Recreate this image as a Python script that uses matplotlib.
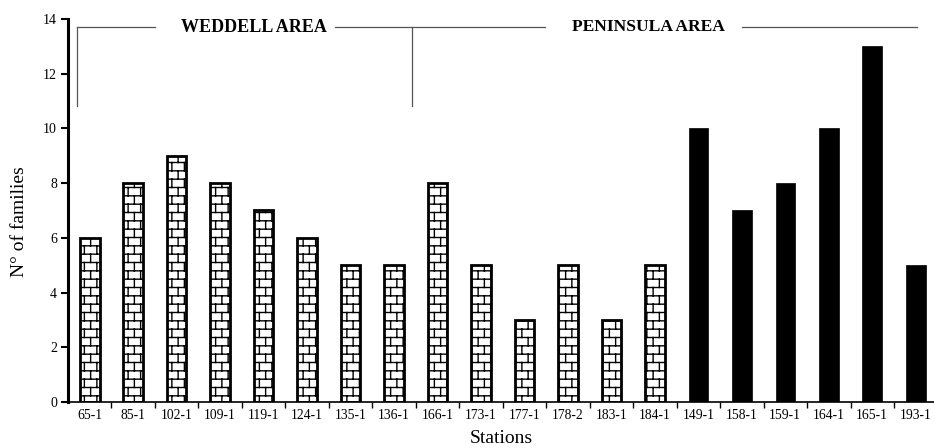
import warnings
import numpy as np
import matplotlib
matplotlib.use('Agg')
import matplotlib.pyplot as plt
from matplotlib import hatch as mhatch
from matplotlib.path import Path

warnings.filterwarnings('ignore')

stations = ['65-1', '85-1', '102-1', '109-1', '119-1', '124-1', '135-1',
            '136-1', '166-1', '173-1', '177-1', '178-2', '183-1', '184-1',
            '149-1', '158-1', '159-1', '164-1', '165-1', '193-1']
families = [6, 8, 9, 8, 7, 6, 5, 5, 8, 5, 3, 5, 3, 5, 10, 7, 8, 10, 13, 5]
solid = [False] * 14 + [True] * 6


class BrickHatch(mhatch.HatchPatternBase):
    """Staggered brick courses, picked with 'b' in the hatch string."""
    rows, cols = 12, 8

    def __init__(self, hatch, density):
        self.segments = []
        if 'b' in hatch:
            h = 1.0 / self.rows
            for i in range(self.rows):
                y0 = (i + 0.5) * h
                y1 = y0 + h
                self.segments.append(((0.0, y0), (1.0, y0)))
                shift = 0.25 if i % 2 == 0 else 0.75
                for j in range(self.cols):
                    x = (j + shift) / self.cols
                    if y1 <= 1:
                        self.segments.append(((x, y0), (x, y1)))
                    else:
                        self.segments.append(((x, y0), (x, 1.0)))
                        self.segments.append(((x, 0.0), (x, y1 - 1)))
        self.num_vertices = 2 * len(self.segments)

    def set_vertices_and_codes(self, vertices, codes):
        vertices[:] = np.array(self.segments, dtype=float).reshape(-1, 2)
        codes[0::2] = Path.MOVETO
        codes[1::2] = Path.LINETO


mhatch._hatch_types.append(BrickHatch)

plt.rcParams['font.family'] = ['Liberation Serif', 'DejaVu Serif']
plt.rcParams['hatch.linewidth'] = 1.0

fig = plt.figure(figsize=(9.34, 4.48), dpi=100)
ax = fig.add_axes([68 / 934, 46 / 448, 866 / 934, 383 / 448])

x = np.arange(len(stations))
for xi, v, s in zip(x, families, solid):
    if s:
        ax.bar(xi, v, width=0.45, color='black', edgecolor='black', linewidth=0.5)
    else:
        ax.bar(xi, v, width=0.45, color='white', edgecolor='black',
               linewidth=2.0, hatch='b')

ax.set_xlim(-0.5, 19.42)
ax.set_ylim(0, 14)
ax.set_yticks(range(0, 15, 2))
ax.set_xticks(x)
ax.set_xticklabels(stations)
ax.set_xticks(x[:-1] + 0.5, minor=True)
ax.tick_params(axis='x', which='major', length=0, labelsize=9.8, pad=5)
ax.tick_params(axis='x', which='minor', length=4, width=1.0, direction='out')
ax.tick_params(axis='y', length=5, width=1.5, direction='out', labelsize=10, pad=3)

for side in ['top', 'right']:
    ax.spines[side].set_visible(False)
ax.spines['left'].set_linewidth(2.2)
ax.spines['bottom'].set_linewidth(1.2)

ax.set_xlabel('Stations', fontsize=14, labelpad=6)
ax.set_ylabel('N° of families', fontsize=14)
ax.yaxis.set_label_coords(-0.046, 0.47)

# area brackets across the top
line_kw = dict(color='#555555', lw=0.9, clip_on=False)
ax.plot([-0.3, 1.5], [13.7, 13.7], **line_kw)
ax.plot([5.64, 10.47], [13.7, 13.7], **line_kw)
ax.plot([15.0, 19.02], [13.7, 13.7], **line_kw)
ax.plot([-0.3, -0.3], [10.82, 13.7], **line_kw)
ax.plot([7.41, 7.41], [10.82, 13.7], **line_kw)
ax.text(3.77, 13.7, 'WEDDELL AREA', ha='center', va='center',
        fontsize=13, fontweight='bold')
ax.text(12.84, 13.7, 'PENINSULA AREA', ha='center', va='center',
        fontsize=12.6, fontweight='bold')

fig.savefig('out.png', dpi=100)
